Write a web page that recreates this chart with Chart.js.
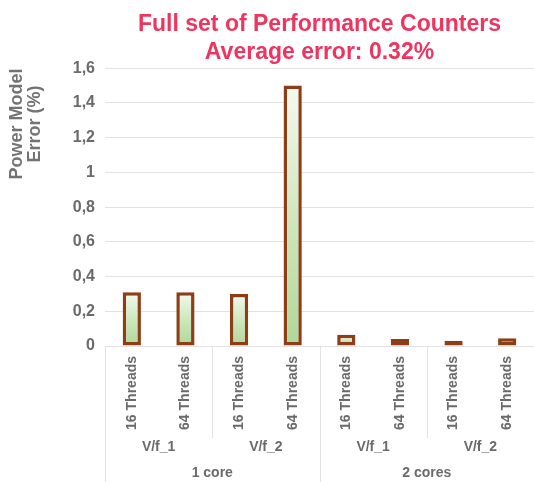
<!DOCTYPE html>
<html>
<head>
<meta charset="utf-8">
<script src="https://cdn.jsdelivr.net/npm/chart.js@4/dist/chart.umd.min.js"></script>
<style>
  html, body { margin: 0; padding: 0; background: #fff; }
  #wrap { width: 534px; height: 482px; }
</style>
</head>
<body>
<div id="wrap"><canvas id="chart" width="534" height="482"></canvas></div>
<script>
// data
var threadLabels = ['16 Threads', '64 Threads', '16 Threads', '64 Threads', '16 Threads', '64 Threads', '16 Threads', '64 Threads'];
var vfLabels = ['V/f_1', 'V/f_2', 'V/f_1', 'V/f_2'];
var coreLabels = ['1 core', '2 cores'];
var errorValues = [0.31, 0.31, 0.30, 1.50, 0.065, 0.04, 0.03, 0.045];
var titleLines = ['Full set of Performance Counters', 'Average error: 0.32%'];
var yTitleLines = ['Power Model', 'Error (%)'];

var FONT = '"Liberation Sans", Arial, sans-serif';
var GRAY = '#6a6a6a';
var LINE = '#e2e2e2';

function barFill(c) {
  var ch = c.chart;
  if (!ch.chartArea || c.raw == null) return '#c8e3b8';
  var y = ch.scales.y;
  var top = y.getPixelForValue(c.raw), base = y.getPixelForValue(0);
  if (base - top < 1) top = base - 1;
  var g = ch.ctx.createLinearGradient(0, top, 0, base);
  g.addColorStop(0, '#f3f9ef');
  g.addColorStop(0.6, '#c8e4b6');
  g.addColorStop(1, '#b0d79b');
  return g;
}

// axe X sur plusieurs niveaux + titre Y decale
var groupAxis = {
  id: 'groupAxis',
  afterDraw: function (chart) {
    var ctx = chart.ctx, x = chart.scales.x, y = chart.scales.y;
    var zeroY = y.getPixelForValue(0), H = chart.height;
    function px(i) { return x.getPixelForValue(i); }
    function edge(i) {
      if (i <= 0) return x.left;
      if (i >= threadLabels.length) return x.right;
      return (px(i - 1) + px(i)) / 2;
    }
    ctx.save();
    ctx.strokeStyle = LINE;
    ctx.lineWidth = 1;
    var seps = [[0, H], [2, 438], [4, H], [6, 438]];
    seps.forEach(function (s) {
      var sx = Math.round(edge(s[0])) + 0.5;
      ctx.beginPath(); ctx.moveTo(sx, zeroY); ctx.lineTo(sx, s[1]); ctx.stroke();
    });
    ctx.fillStyle = GRAY;
    ctx.font = 'bold 14px ' + FONT;
    ctx.textAlign = 'center';
    ctx.textBaseline = 'middle';
    vfLabels.forEach(function (l, i) {
      ctx.fillText(l, (edge(i * 2) + edge(i * 2 + 2)) / 2, 447);
    });
    coreLabels.forEach(function (l, i) {
      ctx.fillText(l, (edge(i * 4) + edge(i * 4 + 4)) / 2, 473);
    });
    // titre Y
    ctx.font = 'bold 18px ' + FONT;
    ctx.fillStyle = '#737373';
    ctx.translate(0, 124);
    ctx.rotate(-Math.PI / 2);
    ctx.fillText(yTitleLines[0], 0, 17);
    ctx.fillText(yTitleLines[1], 0, 35);
    ctx.restore();
  }
};

new Chart(document.getElementById('chart').getContext('2d'), {
  type: 'bar',
  data: {
    labels: threadLabels,
    datasets: [{
      data: errorValues,
      backgroundColor: barFill,
      borderColor: '#8c3f17',
      borderWidth: 3.5,
      borderSkipped: false,
      barPercentage: 0.34,
      categoryPercentage: 1
    }]
  },
  options: {
    responsive: false,
    animation: false,
    devicePixelRatio: 1,
    layout: { padding: { left: 0, right: 0, top: 0, bottom: 0 } },
    plugins: {
      legend: { display: false },
      tooltip: { enabled: false },
      title: {
        display: true,
        text: titleLines,
        color: '#ee3560',
        fullSize: false,
        font: { family: FONT, size: 23, weight: 'bold', lineHeight: 1.2 },
        padding: { top: 11, bottom: 2 }
      }
    },
    scales: {
      x: {
        grid: { display: false },
        border: { display: false },
        ticks: {
          color: GRAY, font: { family: FONT, size: 14, weight: 'bold' },
          minRotation: 90, maxRotation: 90, padding: 2, autoSkip: false
        },
        afterFit: function (s) { s.height = 136; }
      },
      y: {
        min: 0, max: 1.6,
        grid: { color: LINE, drawTicks: false },
        border: { display: false },
        ticks: {
          stepSize: 0.2, padding: 10,
          color: GRAY, font: { family: FONT, size: 16, weight: 'bold' },
          callback: function (v) { return String(Math.round(v * 10) / 10).replace('.', ','); }
        },
        afterFit: function (s) { s.width = 105; }
      }
    }
  },
  plugins: [groupAxis]
});
</script>
</body>
</html>
